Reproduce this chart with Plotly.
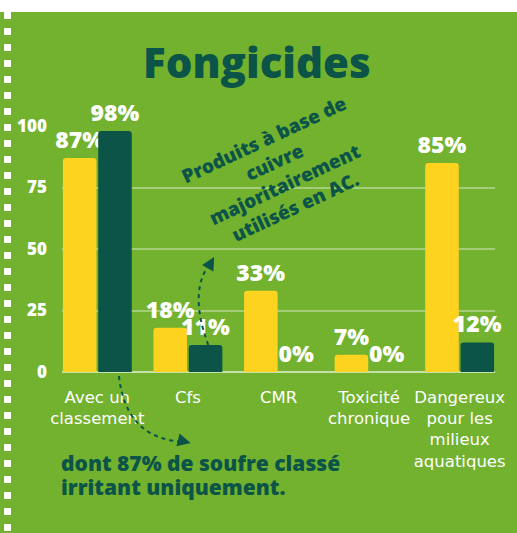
import plotly.graph_objects as go

# ---- data ----
categories = ["Avec un<br>classement", "Cfs", "CMR", "Toxicité<br>chronique",
              "Dangereux<br>pour les<br>milieux<br>aquatiques"]
serie_jaune = [87, 18, 33, 7, 85]
serie_verte = [98, 11, 0, 0, 12]
y_ticks = [0, 25, 50, 75, 100]
note_lines = ["dont 87% de soufre classé", "irritant uniquement."]

# ---- styles ----
BG = "#72b22e"
YELLOW = "#fdd31f"
DARK = "#0b5447"
HEAVY = "Open Sans"
W, H = 517, 533
ML, MR, MT, MB = 62, 14, 126, 161
PW, PH = W - ML - MR, H - MT - MB


def px(x):
    return (x - ML) / PW


def py(y):
    return (H - MB - y) / PH


xs = list(range(len(categories)))

fig = go.Figure()
lab_font = dict(family=HEAVY, size=23, color="white", weight=800)
for vals, col, nm in [(serie_jaune, YELLOW, "Série 1"), (serie_verte, DARK, "Série 2")]:
    fig.add_trace(go.Bar(x=xs, y=vals, marker_color=col, name=nm,
                         text=[f"{v}%" for v in vals], textposition="outside",
                         textangle=0, constraintext="none",
                         textfont=lab_font, cliponaxis=False, marker_line_width=0))

shapes = []
# top white strip
shapes.append(dict(type="rect", xref="paper", yref="paper", x0=px(-10), x1=px(W + 20),
                   y0=py(-10), y1=py(12), fillcolor="white", line_width=0, layer="below"))
# left dashed border squares
yy = 12
while yy < H:
    shapes.append(dict(type="rect", xref="paper", yref="paper", x0=px(3), x1=px(10),
                       y0=py(yy), y1=py(min(yy + 7, H)), fillcolor="white", line_width=0))
    yy += 16


def path_px(pts):
    (x0, y0), (cx, cy), (x1, y1) = pts
    return f"M {px(x0)},{py(y0)} Q {px(cx)},{py(cy)} {px(x1)},{py(y1)}"


shapes.append(dict(type="path", xref="paper", yref="paper",
                   path=path_px([(120, 376), (127, 440), (188, 442)]),
                   line=dict(color=DARK, width=2, dash="4px,4px")))
shapes.append(dict(type="path", xref="paper", yref="paper",
                   path=path_px([(211, 345), (190, 290), (214, 262)]),
                   line=dict(color=DARK, width=2, dash="4px,4px")))

annotations = [
    dict(text="Fongicides", x=px(261), y=py(62), xref="paper", yref="paper",
         xanchor="center", yanchor="middle", showarrow=False,
         font=dict(family=HEAVY, size=42, color=DARK, weight=800)),
    dict(text="Produits à base de<br>cuivre<br>majoritairement<br>utilisés en AC.",
         x=px(284), y=py(173), xref="paper", yref="paper", showarrow=False, textangle=-25,
         xanchor="center", yanchor="middle",
         font=dict(family=HEAVY, size=19, color=DARK, weight=800)),
    # arrowheads
    dict(text="", x=px(193), y=py(443), xref="paper", yref="paper", showarrow=True,
         ax=-8, ay=-2, arrowhead=2, arrowsize=1.3, arrowwidth=2, arrowcolor=DARK, standoff=0),
    dict(text="", x=px(217), y=py(257), xref="paper", yref="paper", showarrow=True,
         ax=-4, ay=7, arrowhead=2, arrowsize=1.3, arrowwidth=2, arrowcolor=DARK, standoff=0),
]
for i, line in enumerate(note_lines):
    annotations.append(dict(text=line, x=px(59), y=py(463 + 24 * i), xref="paper", yref="paper",
                            showarrow=False, xanchor="left", yanchor="middle", align="left",
                            font=dict(family=HEAVY, size=21, color=DARK, weight=800)))

fig.update_layout(
    width=W, height=H, autosize=False,
    margin=dict(l=ML, r=MR, t=MT, b=MB),
    paper_bgcolor=BG, plot_bgcolor=BG,
    barmode="group", bargap=0.22, bargroupgap=0.05,
    barcornerradius=3,
    showlegend=False,
    shapes=shapes, annotations=annotations,
)
fig.update_xaxes(range=[-0.39, 4.39], tickvals=xs, ticktext=categories, tickangle=0,
                 tickfont=dict(family="DejaVu Sans", size=16.5, color="white"),
                 showgrid=False, zeroline=False, showline=False, ticks="",
                 ticklabelstandoff=13, fixedrange=True)
fig.update_yaxes(range=[0, 100], tickvals=y_ticks,
                 tickfont=dict(family=HEAVY, size=17, color="white", weight=800),
                 showgrid=True, gridcolor="rgba(255,255,255,0.35)", gridwidth=1.5,
                 zeroline=True, zerolinecolor="rgba(255,255,255,0.6)", zerolinewidth=2,
                 showline=False, ticks="", ticklabelstandoff=14, fixedrange=True)

fig.write_html("out.html", config={"displayModeBar": False},
               post_script="document.body.style.margin='0';document.body.style.overflow='hidden';")
